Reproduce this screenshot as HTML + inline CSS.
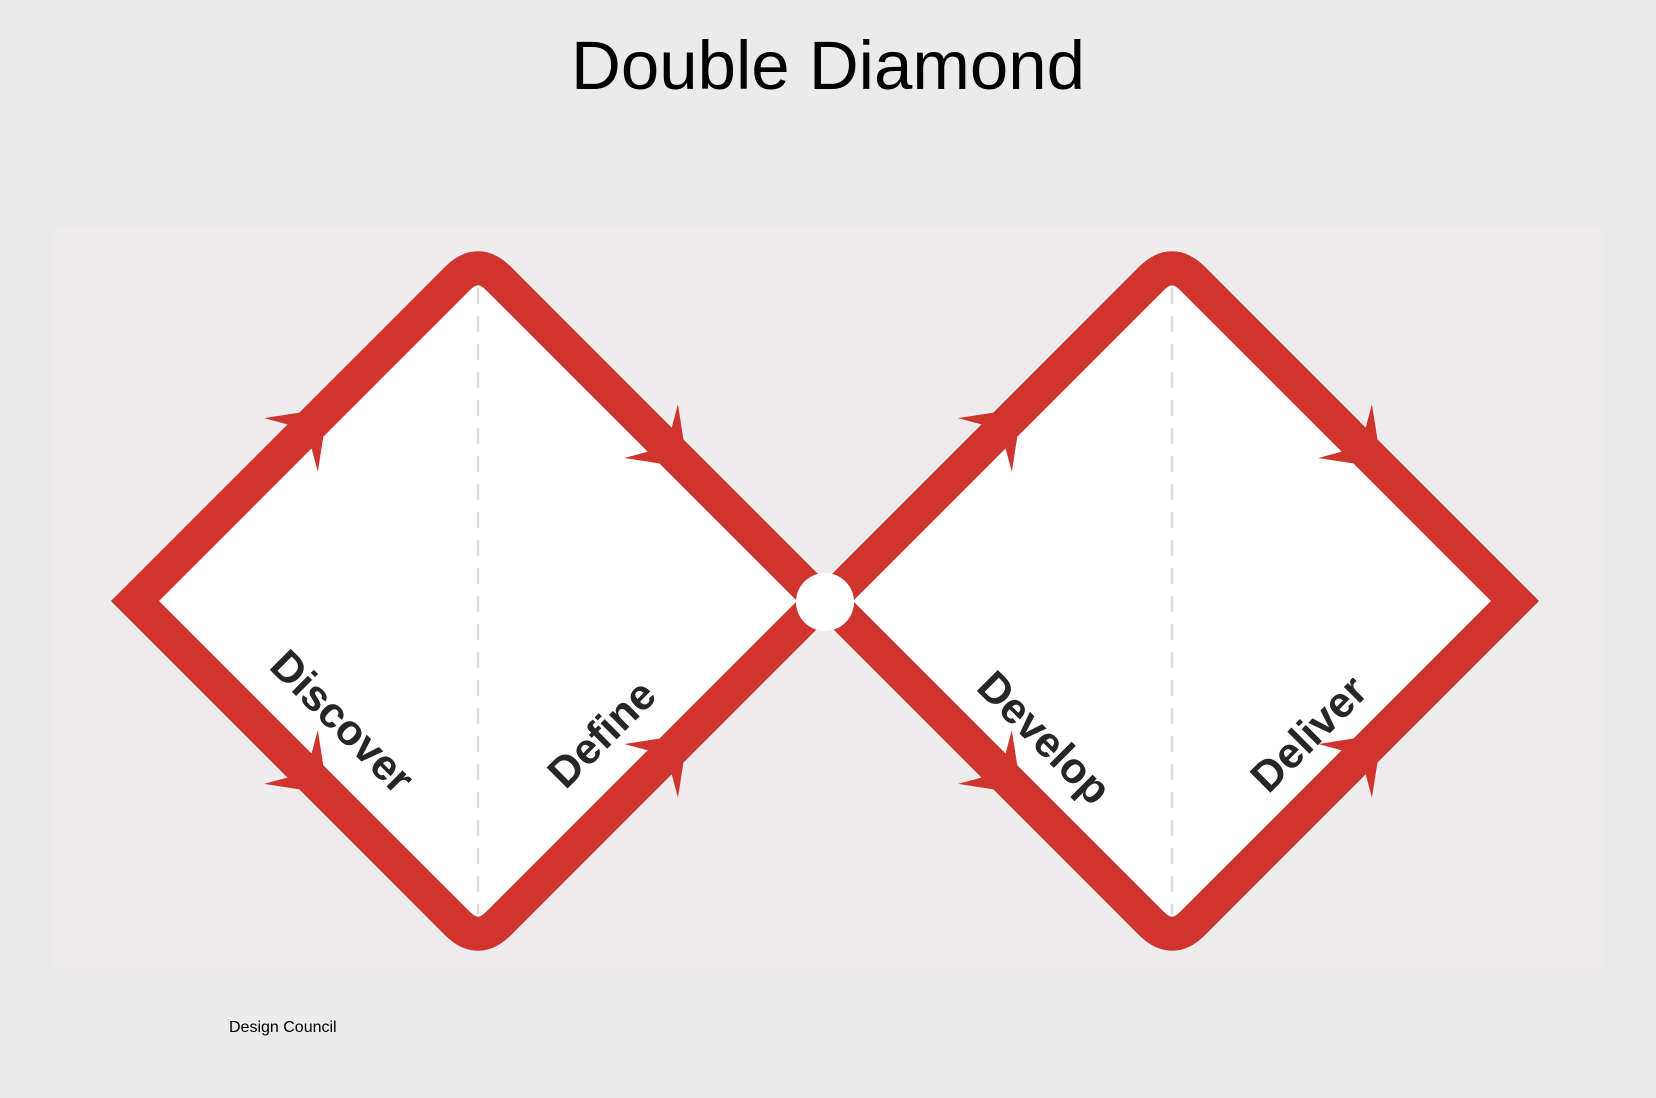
<!DOCTYPE html>
<html><head><meta charset="utf-8"><style>
html,body{margin:0;padding:0;background:#ebebeb;}
body{width:1656px;height:1098px;position:relative;overflow:hidden;font-family:"Liberation Sans",sans-serif;}
</style></head><body>
<svg width="1656" height="1098" viewBox="0 0 1656 1098" style="position:absolute;left:0;top:0">
<text x="828" y="89" text-anchor="middle" font-size="69" font-family="Liberation Sans, sans-serif" fill="#000">Double Diamond</text>
<rect x="53" y="227" width="1550" height="741" fill="#eeeced"/>
<g id="dg"></g>
<text x="229" y="1032" font-size="16" font-family="Liberation Sans, sans-serif" fill="#000">Design Council</text>
</svg>
<script>
const phases=["Discover","Define","Develop","Deliver"];
const diamondCenters=[478,1172];
const NS="http://www.w3.org/2000/svg";
const g=document.getElementById('dg');
const cy=601,hw=343,hh=343,red="#d0342f";
function mk(t,a){const e=document.createElementNS(NS,t);for(const k in a)e.setAttribute(k,a[k]);g.appendChild(e);return e;}
function lerp(a,b,t){return [a[0]+(b[0]-a[0])*t,a[1]+(b[1]-a[1])*t];}
diamondCenters.forEach((cx,i)=>{
  const L=[cx-hw,cy],T=[cx,cy-hh],R=[cx+hw,cy],B=[cx,cy+hh];
  const k=0.06;
  const t1=lerp(T,L,k),t2=lerp(T,R,k),b1=lerp(B,R,k),b2=lerp(B,L,k);
  const d=`M${L} L${t1} Q${T} ${t2} L${R} L${b1} Q${B} ${b2} Z`;
  const poly=mk('path',{d:d,fill:'#fff',stroke:red,'stroke-width':34,'stroke-linejoin':'miter','stroke-miterlimit':10});
  
  
  const dl=mk('line',{x1:cx,y1:cy-hh+30,x2:cx,y2:cy+hh-30,stroke:'#dcdcdc','stroke-width':2.5,'stroke-dasharray':'16 12'});
  
  
  [[L,T,0.5],[T,R,0.55],[L,B,0.5],[B,R,0.55]].forEach(([a,b,t],j)=>{
    const dx=b[0]-a[0],dy=b[1]-a[1],len=Math.hypot(dx,dy),ux=dx/len,uy=dy/len,px=-uy,py=ux;
    const mx=a[0]+dx*t,my=a[1]+dy*t;
    const tip=[mx+ux*30,my+uy*30],w1=[mx-ux*22+px*38,my-uy*22+py*38],w2=[mx-ux*22-px*38,my-uy*22-py*38];
    const ar=mk('polygon',{points:[tip,w1,[mx,my],w2].map(p=>p.join(',')).join(' '),fill:red});
    
    
  });
});
const c=mk('circle',{cx:(diamondCenters[0]+hw+diamondCenters[1]-hw)/2,cy:cy+1,r:29,fill:'#fff'});


const labelPos=[[340,724,45],[604,736,-45],[1042,740,45],[1311,736,-45]];
phases.forEach((p,i)=>{
  const [x,y,r]=labelPos[i];
  const t=mk('text',{x:x,y:y,'text-anchor':'middle','dominant-baseline':'middle','font-size':43,'font-weight':'bold','font-family':'Liberation Sans, sans-serif',fill:'#262626',transform:`rotate(${r} ${x} ${y})`});
  t.textContent=p;
  
  
});
</script>
</body></html>
